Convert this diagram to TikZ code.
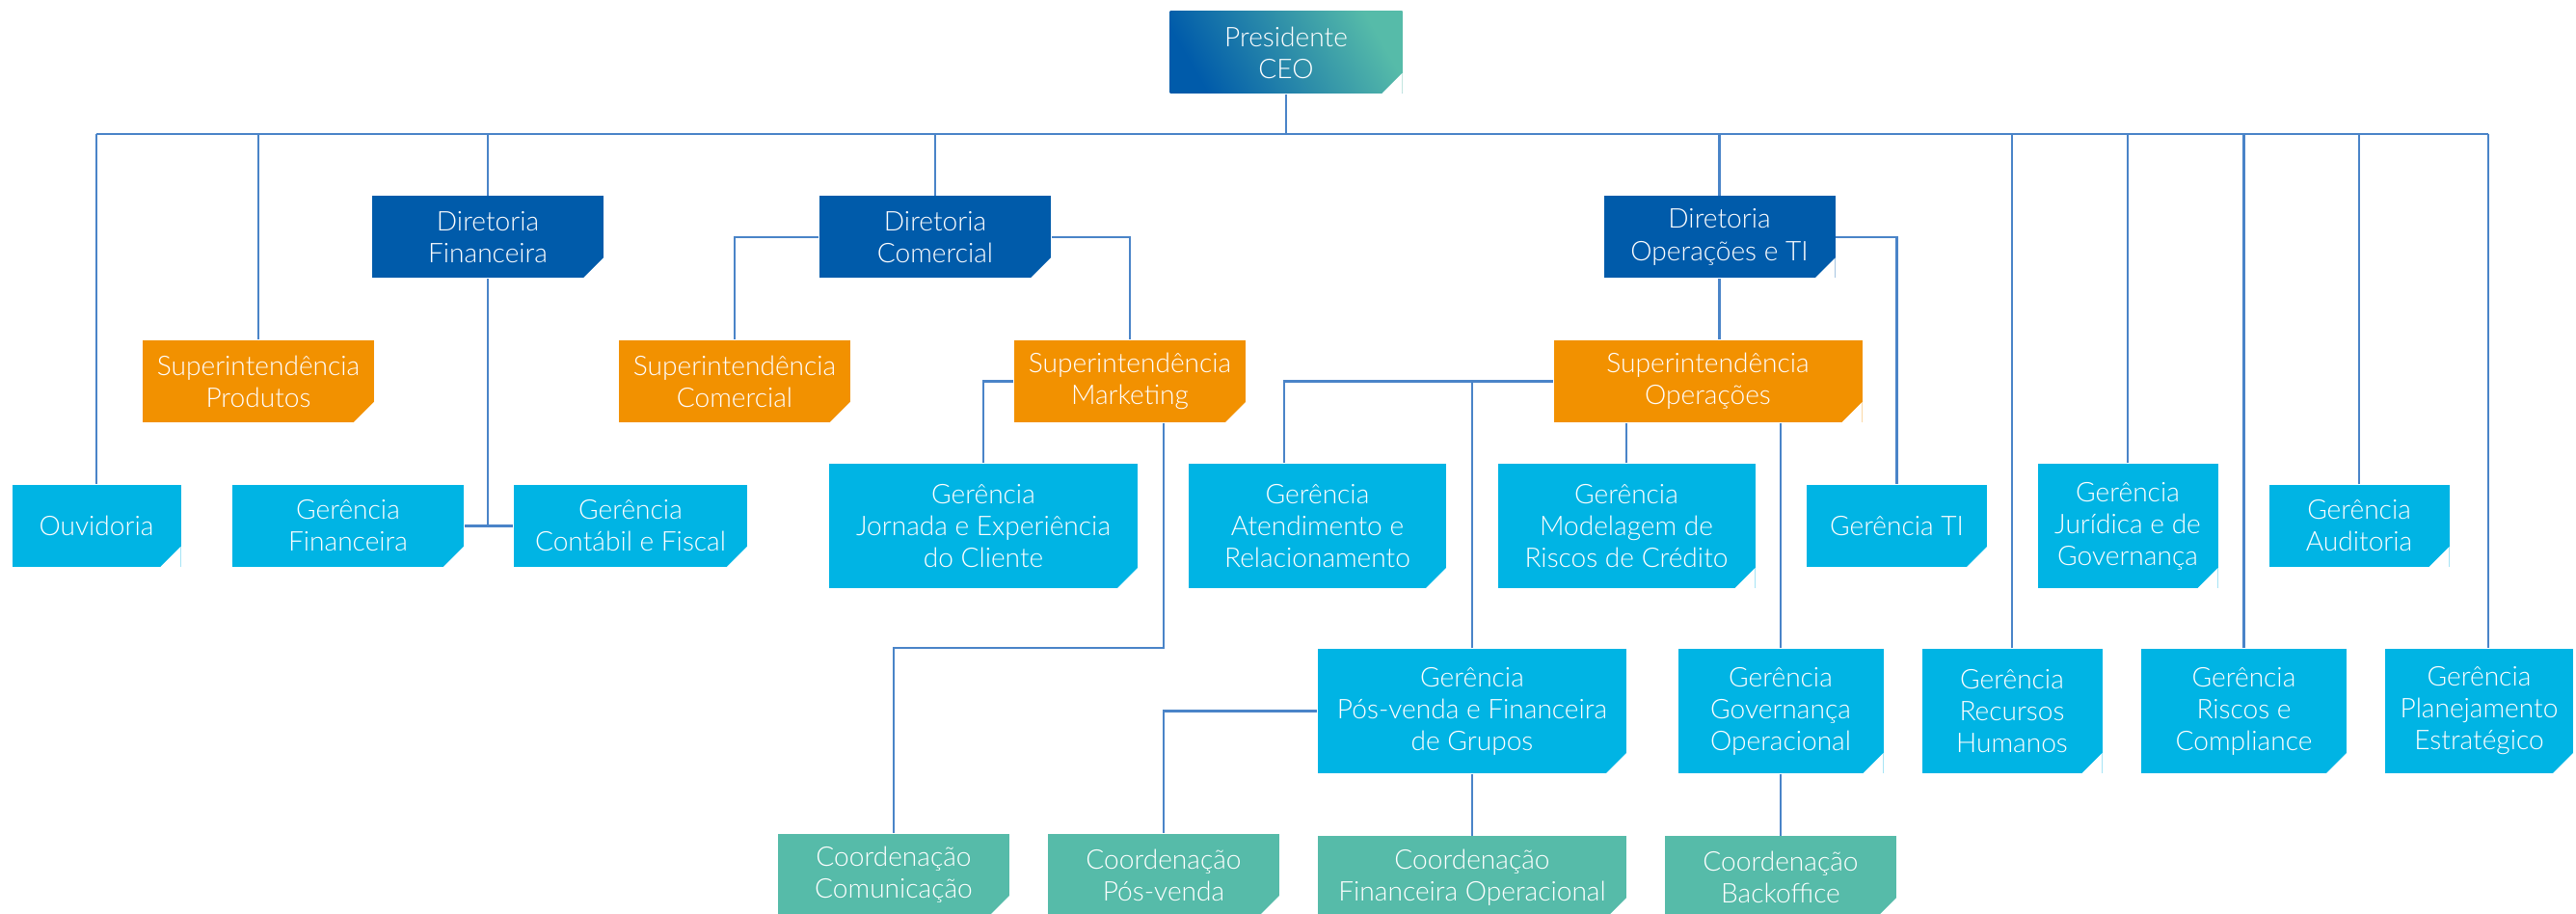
\documentclass[tikz,border=0pt]{standalone}
\usepackage{fontspec}
\setmainfont{Lato}[UprightFont=* Light]
\usepackage{xcolor}
\usepackage{tikz}
\usetikzlibrary{positioning,calc}
\definecolor{dblue}{RGB}{0,91,170}
\definecolor{orng}{RGB}{242,145,0}
\definecolor{cyan1}{RGB}{0,180,228}
\definecolor{teal1}{RGB}{86,187,169}
\definecolor{wire}{RGB}{74,132,200}
\tikzset{
  orgbox/.style={rectangle, fill=#1, text=white, align=center, inner sep=1pt, minimum width=2.4cm, minimum height=0.85cm, font=\fontsize{8}{9.4}\selectfont,
    path picture={\fill[white] ([xshift=-2.1mm]path picture bounding box.south east) -- (path picture bounding box.south east) -- ([yshift=2.1mm]path picture bounding box.south east) -- cycle;}},
  tall/.style={minimum height=1.29cm},
  link/.style={draw=wire, line width=0.6pt}
}

\begin{document}
\begin{tikzpicture}[
    dir/.style={orgbox=dblue},
    sup/.style={orgbox=orng},
    ger/.style={orgbox=cyan1},
    coord/.style={orgbox=teal1}
]
    \useasboundingbox (0,0) rectangle (26.72,-9.48);

    % Presidente
    \node[orgbox=dblue, left color=dblue, right color=teal1, shading angle=120, minimum width=2.41cm] (ceo) at (13.34,-0.545) {Presidente\\CEO};
    \coordinate (bus_l) at (1.00,-1.39);
    \coordinate (bus_r) at (25.81,-1.39);

    % Diretorias
    \node[dir] (d_fin) at (5.06,-2.46) {Diretoria\\Financeira};
    \node[dir] (d_com) at (9.70,-2.46) {Diretoria\\Comercial};
    \node[dir] (d_op) at (17.835,-2.46) {Diretoria\\Operações e TI};

    % Superintendencias
    \node[sup] (s_prod) at (2.68,-3.955) {Superintendência\\Produtos};
    \node[sup] (s_com) at (7.62,-3.955) {Superintendência\\Comercial};
    \node[sup] (s_mkt) at (11.72,-3.955) {Superintendência\\Marketing};
    \node[sup, minimum width=3.2cm] (s_op) at (17.715,-3.955) {Superintendência\\Operações};

    % Gerencias (linha 1)
    \node[ger, minimum width=1.75cm] (ouv) at (1.00,-5.455) {Ouvidoria};
    \node[ger] (g_fin) at (3.61,-5.455) {Gerência\\Financeira};
    \node[ger, minimum width=2.42cm] (g_cont) at (6.54,-5.455) {Gerência\\Contábil e Fiscal};
    \node[ger, tall, minimum width=3.2cm] (g_jorn) at (10.20,-5.455) {Gerência\\Jornada e Experiência\\do Cliente};
    \node[ger, tall, minimum width=2.67cm] (g_atend) at (13.665,-5.455) {Gerência\\Atendimento e\\Relacionamento};
    \node[ger, tall, minimum width=2.67cm] (g_mod) at (16.87,-5.455) {Gerência\\Modelagem de\\Riscos de Crédito};
    \node[ger, minimum width=1.87cm] (g_ti) at (19.675,-5.455) {Gerência TI};
    \node[ger, tall, minimum width=1.87cm] (g_jur) at (22.07,-5.455) {Gerência\\Jurídica e de\\Governança};
    \node[ger, minimum width=1.87cm] (g_aud) at (24.47,-5.455) {Gerência\\Auditoria};

    % Gerencias (linha 2)
    \node[ger, tall, minimum width=3.2cm] (g_pos) at (15.27,-7.375) {Gerência\\Pós-venda e Financeira\\de Grupos};
    \node[ger, tall, minimum width=2.13cm] (g_gov) at (18.47,-7.375) {Gerência\\Governança\\Operacional};
    \node[ger, tall, minimum width=1.87cm] (g_rh) at (20.87,-7.375) {Gerência\\Recursos\\Humanos};
    \node[ger, tall, minimum width=2.13cm] (g_risc) at (23.275,-7.375) {Gerência\\Riscos e\\Compliance};
    \node[ger, tall, minimum width=1.95cm] (g_plan) at (25.715,-7.375) {Gerência\\Planejamento\\Estratégico};

    % Coordenacoes
    \node[coord] (c_com) at (9.27,-9.075) {Coordenação\\Comunicação};
    \node[coord] (c_pos) at (12.07,-9.075) {Coordenação\\Pós-venda};
    \node[coord, below=0.64cm of g_pos, minimum width=3.2cm] (c_fin) {Coordenação\\Financeira Operacional};
    \node[coord, below=0.64cm of g_gov] (c_back) {Coordenação\\Backoffice};
    \coordinate (mk_turn) at (12.07,-6.72);

    % Barramento
    \draw[link] (ceo.south) -- (ceo.south |- bus_l);
    \draw[link] (bus_l) -- (bus_r);
    \draw[link] (bus_l) -- (ouv.north);
    \draw[link] (s_prod.north) -- (s_prod.north |- bus_l);
    \draw[link] (d_fin.north) -- (d_fin.north |- bus_l);
    \draw[link] (d_com.north) -- (d_com.north |- bus_l);
    \draw[link] (d_op.north) -- (d_op.north |- bus_l);
    \draw[link] (g_rh.north) -- (g_rh.north |- bus_l);
    \draw[link] (g_jur.north) -- (g_jur.north |- bus_l);
    \draw[link] (g_risc.north) -- (g_risc.north |- bus_l);
    \draw[link] (g_aud.north) -- (g_aud.north |- bus_l);
    \draw[link] (bus_r) -- (bus_r |- g_plan.north);

    % Financeira
    \draw[link] (d_fin.south) -- (d_fin.south |- g_fin.east);
    \draw[link] (g_fin.east) -- (g_cont.west);

    % Comercial
    \draw[link] (d_com.west) -| (s_com.north);
    \draw[link] (d_com.east) -| (s_mkt.north);
    \draw[link] (s_mkt.west) -| (g_jorn.north);
    \draw[link] (mk_turn |- s_mkt.south) -- (mk_turn) -| (c_com.north);

    % Operacoes e TI
    \draw[link] (d_op.south) -- (d_op.south |- s_op.north);
    \draw[link] (d_op.east) -| (g_ti.north);
    \draw[link] (s_op.west) -| ([xshift=-0.345cm]g_atend.north);
    \draw[link] (g_pos.north) -- (g_pos.north |- s_op.west);
    \draw[link] (g_mod.north) -- (g_mod.north |- s_op.south);
    \draw[link] (g_gov.north) -- (g_gov.north |- s_op.south);
    \draw[link] (g_pos.west) -| (c_pos.north);
    \draw[link] (g_pos.south) -- (c_fin.north);
    \draw[link] (g_gov.south) -- (c_back.north);

\end{tikzpicture}
\end{document}
